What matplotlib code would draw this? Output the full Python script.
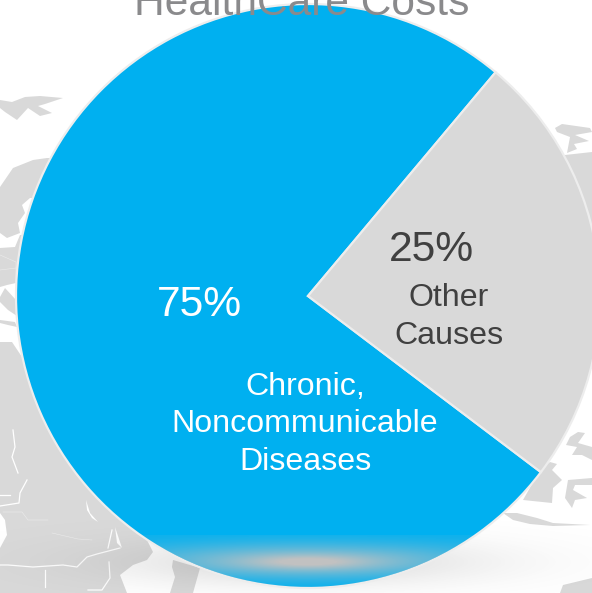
import numpy as np
import matplotlib
matplotlib.use("Agg")
import matplotlib.pyplot as plt
from matplotlib.patches import Polygon, Circle

plt.rcParams['font.family'] = ['Liberation Sans', 'DejaVu Sans']

# Data: the labels say 75 / 25, the drawn sweep is slightly different
categories = ["Chronic,\nNoncommunicable\nDiseases", "Other\nCauses"]
sweep_values = [75.8, 24.2]
percent_labels = ["75%", "25%"]
title = "HealthCare Costs"
colors = ["#00B0F0", "#D9D9D9"]

W, H = 592, 593
fig = plt.figure(figsize=(W / 100, H / 100), dpi=100, facecolor="white")
ax = fig.add_axes([0, 0, 1, 1])
Y = lambda y: H - y
cx, cy, R = 308, Y(296), 292

# decorative world-map backdrop (pixel outline, y measured from the top)
LAND = "#D9D9D9"
land = [
    [(0,100),(12,102),(25,97),(40,96),(63,98),(45,104),(38,106),(52,113),(40,116),(28,108),(17,120),(5,112),(0,108)],
    [(47,158),(33,160),(13,168),(0,187),(0,233),(7,238),(20,233),(18,223),(25,213),(22,205),(30,198),(90,198),(90,158)],
    [(0,248),(15,247),(20,235),(60,235),(60,290),(16,283),(7,285),(0,287)],
    [(0,297),(5,288),(16,300),(17,316),(8,310),(0,302)],
    [(0,320),(15,322),(17,327),(8,325),(0,323)],
    [(0,342),(12,342),(22,357),(250,357),(250,530),(147,540),(153,552),(147,560),(133,565),(120,575),(127,593),
     (0,593),(0,548),(7,535),(5,520),(0,513)],
    [(173,560),(200,568),(193,593),(170,593),(175,577),(172,567)],
    [(555,128),(562,124),(590,128),(592,132),(575,135),(589,141),(574,144),(577,149),(567,153),(570,137),(557,132)],
    [(565,155),(592,152),(592,250),(540,250)],
    [(570,437),(578,432),(585,433),(578,443),(592,447),(592,460),(582,455),(572,455),(577,447),(566,445)],
    [(540,470),(550,462),(557,464),(552,470),(562,480),(553,488),(552,503),(523,500)],
    [(568,480),(592,478),(592,485),(575,485),(573,490),(587,498),(575,500),(572,508),(565,498)],
    [(503,513),(517,513),(537,518),(553,523),(590,525),(553,526),(530,524),(513,520)],
    [(560,593),(563,585),(592,578),(592,593)],
]
for pts in land:
    ax.add_patch(Polygon([(x, Y(y)) for x, y in pts], closed=True, fc=LAND, ec="none", zorder=1))

# lakes and borders of the backdrop
for pts in [[(86,500),(90,513),(98,522),(92,518),(87,510)], [(115,527),(122,548),(117,543)]]:
    ax.add_patch(Polygon([(x, Y(y)) for x, y in pts], closed=True, fc="white", ec="none", zorder=1.1))
borders = [
    [(0,565),(8,565),(33,567),(63,565),(77,567),(87,557),(97,554),(120,548)],
    [(45,570),(45,587)],
    [(109,562),(110,578),(102,590),(88,590)],
    [(112,530),(108,548)],
    [(13,430),(15,447),(12,457),(18,473)],
    [(27,480),(20,493),(19,503),(0,506)],
    [(10,495),(0,495)],
]
for pts in borders:
    ax.plot([p[0] for p in pts], [Y(p[1]) for p in pts], color="white", lw=0.9, zorder=1.2)
faint = [
    [(3,512),(22,512),(28,520),(48,520)],
    [(52,533),(78,539),(92,540)],
    [(0,270),(16,268)],
    [(0,255),(16,262),(16,283)],
]
for pts in faint:
    ax.plot([p[0] for p in pts], [Y(p[1]) for p in pts], color="white", lw=0.4, alpha=0.5, zorder=1.2)

# soft floor shadow
xx, yy = np.meshgrid(np.arange(W) + .5, np.arange(H) + .5)
shadow = np.exp(-((xx - 300) / 190) ** 2 - ((yy - 562) / 24) ** 2)
rgba = np.zeros((H, W, 4)); rgba[..., :3] = 0.45; rgba[..., 3] = 0.24 * shadow
ax.imshow(rgba, extent=(0, W, 0, H), origin="upper", zorder=2.5, interpolation="bilinear")

# the chart itself
startangle = -37.1 - 360 * sweep_values[0] / 100 + 360
wedges, _ = ax.pie(sweep_values, colors=colors, center=(cx, cy), radius=R, startangle=startangle,
                   wedgeprops=dict(edgecolor="#EDEDED", linewidth=1.6))
for w in wedges:
    w.set_zorder(3)

# highlight at the bottom of the pie, clipped to the disc
glow = 0.72 * np.exp(-((xx - 308) / 165) ** 2 - ((yy - 562) / 17) ** 2) \
     + 0.28 * np.exp(-((xx - 308) / 60) ** 2 - ((yy - 562) / 7) ** 2) \
     + 0.10 * np.exp(-((yy - 552) / 20) ** 2)
glow = np.where(yy < 535, 0, glow)
rgba2 = np.zeros((H, W, 4)); rgba2[..., :3] = 0.76
rgba2[..., 3] = np.clip(glow, 0, 1)
im = ax.imshow(rgba2, extent=(0, W, 0, H), origin="upper", zorder=3.5, interpolation="bilinear")
im.set_clip_path(Circle((cx, cy), R - 1, transform=ax.transData))

# title is drawn over the top of the pie and runs off the canvas, as in the source
ax.text(302, Y(15), title, ha="center", va="baseline", fontsize=30.6, color="#8A8A8C", zorder=4)

ax.text(199.5, Y(305), percent_labels[0], ha="center", va="center", fontsize=30.7, color="white", zorder=5)
ax.text(431.5, Y(250), percent_labels[1], ha="center", va="center", fontsize=30.7, color="#404040", zorder=5)
ax.text(305, Y(424.5), categories[0], ha="center", va="center", fontsize=23.1, color="white",
        linespacing=1.32, zorder=5)
ax.text(449, Y(317), categories[1], ha="center", va="center", fontsize=23.1, color="#404040",
        linespacing=1.32, zorder=5)

ax.set_xlim(0, W); ax.set_ylim(0, H); ax.set_aspect("auto"); ax.axis("off")
fig.savefig("out.png", dpi=100, facecolor="white")
